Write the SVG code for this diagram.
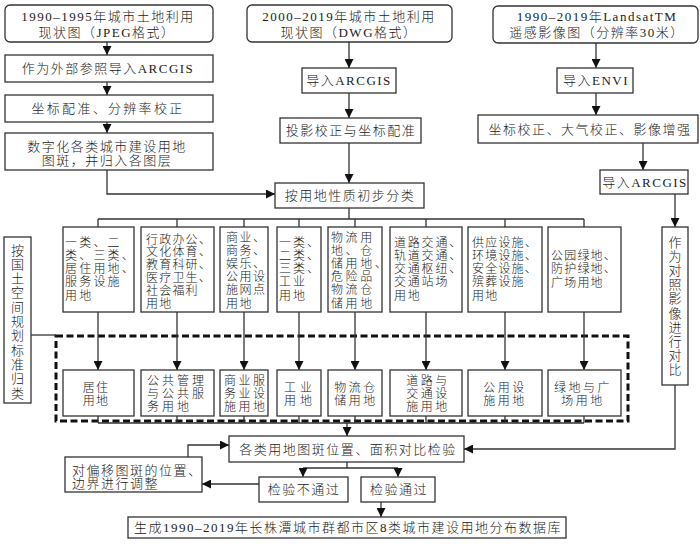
<svg xmlns="http://www.w3.org/2000/svg" width="700" height="554" viewBox="0 0 700 554">
<style>
.box{fill:#fff;stroke:#333;stroke-width:1.3}
.t{font-family:"Liberation Serif","Noto Sans CJK SC",serif;font-size:13px;fill:#222;letter-spacing:1.5px;font-weight:300}
.m{text-anchor:middle}
.c{font-size:12px;letter-spacing:1.2px}
.ln{fill:none;stroke:#333;stroke-width:1.3}
.dash{fill:none;stroke:#111;stroke-width:3;stroke-dasharray:7 3.5}
</style>
<defs>
<marker id="arr" viewBox="0 0 10 10" refX="10" refY="5" markerWidth="9" markerHeight="9" markerUnits="userSpaceOnUse" orient="auto">
<path d="M0,0 L10,5 L0,10 z" fill="#111"/>
</marker>
</defs>
<rect width="700" height="554" fill="#fff"/>

<g id="dashed-frame"><rect class="dash" x="56" y="336" width="572" height="85"/></g>

<g id="connectors">
<path class="ln" marker-end="url(#arr)" d="M107,42 V55"/>
<path class="ln" marker-end="url(#arr)" d="M107,82 V95"/>
<path class="ln" marker-end="url(#arr)" d="M107,122 V133"/>
<path class="ln" marker-end="url(#arr)" d="M107,170 V194 H275"/>
<path class="ln" marker-end="url(#arr)" d="M349,42 V68"/>
<path class="ln" marker-end="url(#arr)" d="M349,93 V118"/>
<path class="ln" marker-end="url(#arr)" d="M349,143 V183"/>
<path class="ln" marker-end="url(#arr)" d="M596,43 V68"/>
<path class="ln" marker-end="url(#arr)" d="M596,93 V115"/>
<path class="ln" marker-end="url(#arr)" d="M643,143 V170"/>
<path class="ln" marker-end="url(#arr)" d="M675,194 V227"/>
<path class="ln" d="M349,208 V219 M98,219 H584 M98,219 V227 M177,219 V227 M244,219 V227 M299,219 V227 M355,219 V227 M426,219 V227 M505,219 V227 M584,219 V227"/>
<path class="ln" marker-end="url(#arr)" d="M98,312 V370"/>
<path class="ln" marker-end="url(#arr)" d="M177,312 V370"/>
<path class="ln" marker-end="url(#arr)" d="M244,312 V370"/>
<path class="ln" marker-end="url(#arr)" d="M299,312 V370"/>
<path class="ln" marker-end="url(#arr)" d="M355,312 V370"/>
<path class="ln" marker-end="url(#arr)" d="M426,312 V370"/>
<path class="ln" marker-end="url(#arr)" d="M505,312 V370"/>
<path class="ln" marker-end="url(#arr)" d="M584,312 V370"/>
<path class="ln" d="M98,416 V423 M177,416 V423 M244,416 V423 M299,416 V423 M355,416 V423 M426,416 V423 M505,416 V423 M584,416 V423 M98,423 H584"/>
<path class="ln" marker-end="url(#arr)" d="M347,423 V436"/>
<path class="ln" marker-end="url(#arr)" d="M675,385 V449 H464"/>
<path class="ln" d="M347,462 V468 M303,468 H398"/>
<path class="ln" marker-end="url(#arr)" d="M303,468 V477"/>
<path class="ln" marker-end="url(#arr)" d="M398,468 V477"/>
<path class="ln" marker-end="url(#arr)" d="M259,484 H202"/>
<path class="ln" marker-end="url(#arr)" d="M188,457 V445 H229"/>
<path class="ln" marker-end="url(#arr)" d="M381,502 V517"/>
<path class="ln" d="M31,335 H56"/>
</g>

<g id="src1">
<rect class="box" x="5" y="5" width="208" height="37" rx="5"/>
<text class="t m" x="108" y="21">1990–1995年城市土地利用</text>
<text class="t m" x="107" y="37">现状图（JPEG格式）</text>
</g>
<g id="s1a"><rect class="box" x="5" y="55" width="208" height="27"/>
<text class="t m" x="108" y="73">作为外部参照导入ARCGIS</text></g>
<g id="s1b"><rect class="box" x="5" y="95" width="208" height="27"/>
<text class="t m" x="108" y="113" style="letter-spacing:2.3px">坐标配准、分辨率校正</text></g>
<g id="s1c"><rect class="box" x="5" y="133" width="208" height="37"/>
<text class="t m" x="107" y="151">数字化各类城市建设用地</text>
<text class="t m" x="107" y="165">图斑，并归入各图层</text></g>

<g id="src2">
<rect class="box" x="247" y="5" width="205" height="37" rx="5"/>
<text class="t m" x="349" y="21">2000–2019年城市土地利用</text>
<text class="t m" x="349" y="37">现状图（DWG格式）</text>
</g>
<g id="s2a"><rect class="box" x="302" y="68" width="94" height="25"/>
<text class="t m" x="349" y="85">导入ARCGIS</text></g>
<g id="s2b"><rect class="box" x="280" y="118" width="141" height="25"/>
<text class="t m" x="351" y="135">投影校正与坐标配准</text></g>

<g id="classify"><rect class="box" x="275" y="183" width="149" height="25"/>
<text class="t m" x="350" y="200">按用地性质初步分类</text></g>

<g id="src3">
<rect class="box" x="493" y="6" width="205" height="37" rx="5"/>
<text class="t m" x="597" y="21">1990–2019年LandsatTM</text>
<text class="t m" x="597" y="37">遥感影像图（分辨率30米）</text>
</g>
<g id="s3a"><rect class="box" x="557" y="68" width="76" height="25"/>
<text class="t m" x="596" y="85">导入ENVI</text></g>
<g id="s3b"><rect class="box" x="478" y="115" width="220" height="28"/>
<text class="t m" x="590" y="134">坐标校正、大气校正、影像增强</text></g>
<g id="s3c"><rect class="box" x="600" y="170" width="88" height="24"/>
<text class="t m" x="645" y="187">导入ARCGIS</text></g>
<g id="compare-img"><rect class="box" x="662" y="227" width="26" height="158"/>
<text class="t m" style="letter-spacing:0">
<tspan x="675" y="246.5">作</tspan><tspan x="675" y="260.7">为</tspan><tspan x="675" y="274.9">对</tspan><tspan x="675" y="289.1">照</tspan><tspan x="675" y="303.3">影</tspan><tspan x="675" y="317.5">像</tspan><tspan x="675" y="331.7">进</tspan><tspan x="675" y="345.9">行</tspan><tspan x="675" y="360.1">对</tspan><tspan x="675" y="374.3">比</tspan>
</text></g>

<g id="standard"><rect class="box" x="4" y="237" width="27" height="166"/>
<text class="t m" style="letter-spacing:0">
<tspan x="17.5" y="254.5">按</tspan><tspan x="17.5" y="268.8">国</tspan><tspan x="17.5" y="283.1">土</tspan><tspan x="17.5" y="297.4">空</tspan><tspan x="17.5" y="311.7">间</tspan><tspan x="17.5" y="326">规</tspan><tspan x="17.5" y="340.3">划</tspan><tspan x="17.5" y="354.6">标</tspan><tspan x="17.5" y="368.9">准</tspan><tspan x="17.5" y="383.2">归</tspan><tspan x="17.5" y="397.5">类</tspan>
</text></g>

<g id="cat1"><rect class="box" x="63" y="227" width="71" height="85"/>
<text class="t c" style="letter-spacing:2.2px"><tspan x="65" y="246.5">一类、二</tspan><tspan x="65" y="259.8">类、三类、</tspan><tspan x="65" y="273.1">居住用地、</tspan><tspan x="65" y="286.4">服务设施</tspan><tspan x="65" y="299.7">用地</tspan></text></g>
<g id="cat2"><rect class="box" x="141" y="227" width="73" height="85"/>
<text class="t c"><tspan x="146" y="243.5">行政办公、</tspan><tspan x="146" y="256.4">文化体育、</tspan><tspan x="146" y="269.3">教育科研、</tspan><tspan x="146" y="282.2">医疗卫生、</tspan><tspan x="146" y="295.1">社会福利</tspan><tspan x="146" y="308">用地</tspan></text></g>
<g id="cat3"><rect class="box" x="220" y="227" width="48" height="85"/>
<text class="t c" style="letter-spacing:1.5px"><tspan x="226" y="241.5">商业、</tspan><tspan x="226" y="254.7">商务、</tspan><tspan x="226" y="267.9">娱乐、</tspan><tspan x="226" y="281.1">公用设</tspan><tspan x="226" y="294.3">施网点</tspan><tspan x="226" y="307.5">用地</tspan></text></g>
<g id="cat4"><rect class="box" x="277" y="227" width="44" height="85"/>
<text class="t c" style="letter-spacing:2px"><tspan x="279" y="246.5">一类、</tspan><tspan x="279" y="259.8">二类、</tspan><tspan x="279" y="273.1">三类、</tspan><tspan x="279" y="286.4">工业</tspan><tspan x="279" y="299.7">用地</tspan></text></g>
<g id="cat5"><rect class="box" x="328" y="227" width="54" height="85"/>
<text class="t c" style="letter-spacing:2.6px"><tspan x="331" y="241.5">物流用</tspan><tspan x="331" y="254.7">地、仓</tspan><tspan x="331" y="267.9">储用地、</tspan><tspan x="331" y="281.1">危险品</tspan><tspan x="331" y="294.3">物流仓</tspan><tspan x="331" y="307.5">储用地</tspan></text></g>
<g id="cat6"><rect class="box" x="390" y="227" width="72" height="85"/>
<text class="t c" style="letter-spacing:1.8px"><tspan x="394" y="246.5">道路交通、</tspan><tspan x="394" y="259.8">轨道交通、</tspan><tspan x="394" y="273.1">交通枢纽、</tspan><tspan x="394" y="286.4">交通站场</tspan><tspan x="394" y="299.7">用地</tspan></text></g>
<g id="cat7"><rect class="box" x="468" y="227" width="74" height="85"/>
<text class="t c"><tspan x="472" y="246.5">供应设施、</tspan><tspan x="472" y="259.8">环境设施、</tspan><tspan x="472" y="273.1">安全设施、</tspan><tspan x="472" y="286.4">殡葬设施</tspan><tspan x="472" y="299.7">用地</tspan></text></g>
<g id="cat8"><rect class="box" x="548" y="227" width="73" height="85"/>
<text class="t c"><tspan x="551" y="260">公园绿地、</tspan><tspan x="551" y="273.3">防护绿地、</tspan><tspan x="551" y="286.6">广场用地</tspan></text></g>

<g id="res1"><rect class="box" x="63" y="370" width="71" height="46"/>
<text class="t c m"><tspan x="96" y="392">居住</tspan><tspan x="96" y="405">用地</tspan></text></g>
<g id="res2"><rect class="box" x="141" y="370" width="73" height="46"/>
<text class="t c" style="letter-spacing:3px"><tspan x="147" y="384.5">公共管理</tspan><tspan x="147" y="397.5">与公共服</tspan><tspan x="147" y="410.5">务用地</tspan></text></g>
<g id="res3"><rect class="box" x="220" y="370" width="48" height="46"/>
<text class="t c" style="letter-spacing:2.5px"><tspan x="224" y="384.5">商业服</tspan><tspan x="224" y="397.5">务业设</tspan><tspan x="224" y="410.5">施用地</tspan></text></g>
<g id="res4"><rect class="box" x="277" y="370" width="44" height="46"/>
<text class="t c m" style="letter-spacing:4px"><tspan x="300" y="392">工业</tspan><tspan x="300" y="405">用地</tspan></text></g>
<g id="res5"><rect class="box" x="328" y="370" width="54" height="46"/>
<text class="t c m" style="letter-spacing:2.5px"><tspan x="356" y="392">物流仓</tspan><tspan x="356" y="405">储用地</tspan></text></g>
<g id="res6"><rect class="box" x="390" y="370" width="72" height="46"/>
<text class="t c m" style="letter-spacing:2.5px"><tspan x="428" y="384.5">道路与</tspan><tspan x="428" y="397.5">交通设</tspan><tspan x="428" y="410.5">施用地</tspan></text></g>
<g id="res7"><rect class="box" x="468" y="370" width="74" height="46"/>
<text class="t c m" style="letter-spacing:2.5px"><tspan x="505" y="392">公用设</tspan><tspan x="505" y="405">施用地</tspan></text></g>
<g id="res8"><rect class="box" x="548" y="370" width="73" height="46"/>
<text class="t c m" style="letter-spacing:2.5px"><tspan x="583" y="392">绿地与广</tspan><tspan x="583" y="405">场用地</tspan></text></g>

<g id="check"><rect class="box" x="229" y="436" width="235" height="26"/>
<text class="t m" x="348" y="453.5">各类用地图斑位置、面积对比检验</text></g>
<g id="adjust"><rect class="box" x="65" y="457" width="137" height="35"/>
<text class="t"><tspan x="72" y="474.5">对偏移图斑的位置、</tspan><tspan x="72" y="488">边界进行调整</tspan></text></g>
<g id="fail"><rect class="box" x="259" y="477" width="89" height="25"/>
<text class="t m" x="304" y="494">检验不通过</text></g>
<g id="pass"><rect class="box" x="361" y="477" width="74" height="25"/>
<text class="t m" x="399" y="494">检验通过</text></g>
<g id="output"><rect class="box" x="128" y="517" width="438" height="21"/>
<text class="t m" x="348" y="532">生成1990–2019年长株潭城市群都市区8类城市建设用地分布数据库</text></g>
</svg>
